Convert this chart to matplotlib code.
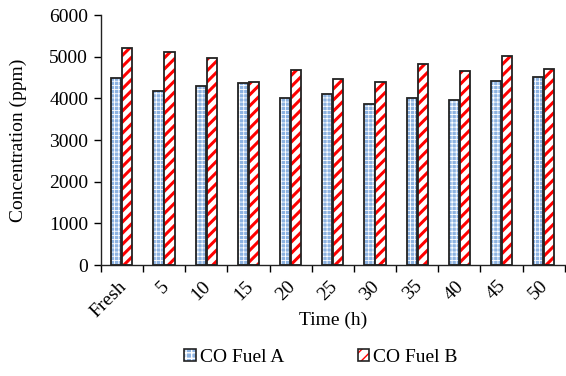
import matplotlib
matplotlib.use("Agg")
import matplotlib.pyplot as plt
import matplotlib.transforms as mtransforms
from matplotlib.patches import Patch
from matplotlib.legend_handler import HandlerTuple
import numpy as np

categories = ["Fresh", "5", "10", "15", "20", "25", "30", "35", "40", "45", "50"]
fuel_a = [4480, 4170, 4300, 4380, 4000, 4100, 3870, 4020, 3960, 4420, 4520]
fuel_b = [5200, 5110, 4960, 4390, 4690, 4460, 4390, 4820, 4650, 5010, 4700]

plt.rcParams["font.family"] = ["Liberation Serif", "DejaVu Serif"]
plt.rcParams["font.size"] = 14

fig = plt.figure(figsize=(5.66, 3.76), dpi=100)
ax = fig.add_axes([0.178, 0.295, 0.82, 0.665])

x = np.arange(len(categories))
w = 0.24
gap = 0.02
blue = "#8db3e2"

# Fuel A: light blue with a fine white grid texture
with plt.rc_context({"hatch.linewidth": 0.6}):
    ax.bar(x - w / 2 - gap / 2, fuel_a, w, color=blue, edgecolor="white",
           hatch="++++", linewidth=0)
    hatch_a = Patch(facecolor=blue, edgecolor="white", hatch="+++", linewidth=0)
ax.bar(x - w / 2 - gap / 2, fuel_a, w, facecolor="none", edgecolor="#222222",
       linewidth=1.3)

# Fuel B: white with red diagonal stripes
with plt.rc_context({"hatch.linewidth": 2.2}):
    ax.bar(x + w / 2 + gap / 2, fuel_b, w, color="white", edgecolor="#ff0000",
           hatch="///", linewidth=0)
    hatch_b = Patch(facecolor="white", edgecolor="#ff0000", hatch="///", linewidth=0)
ax.bar(x + w / 2 + gap / 2, fuel_b, w, facecolor="none", edgecolor="#222222",
       linewidth=1.3)

ax.set_xlim(-0.5, len(categories) - 0.5)
ax.set_ylim(0, 6000)
ax.set_yticks(np.arange(0, 6001, 1000))

# category labels centred between boundary ticks
ax.set_xticks(np.arange(-0.5, len(categories), 1.0))
ax.set_xticklabels([])
ax.set_xticks(x, minor=True)
ax.set_xticklabels(categories, minor=True, rotation=45, ha="right",
                   rotation_mode="anchor")
ax.tick_params(axis="x", which="major", direction="out", length=5, width=1)
ax.tick_params(axis="x", which="minor", length=0, pad=9)
ax.tick_params(axis="y", direction="out", length=5, width=1, pad=4)
shift = mtransforms.ScaledTranslation(-4 / 100, 0, fig.dpi_scale_trans)
for lbl in ax.get_xticklabels(minor=True):
    lbl.set_transform(lbl.get_transform() + shift)

for s in ["top", "right"]:
    ax.spines[s].set_visible(False)
for s in ["left", "bottom"]:
    ax.spines[s].set_color("#222222")
    ax.spines[s].set_linewidth(1)

ax.set_ylabel("Concentration (ppm)", labelpad=16)
ax.set_xlabel("Time (h)", labelpad=-6)

border = dict(facecolor="none", edgecolor="#222222", linewidth=1.2)
handles = [(hatch_a, Patch(**border)), (hatch_b, Patch(**border))]
fig.legend(handles=handles, labels=["CO Fuel A", "CO Fuel B"],
           handler_map={tuple: HandlerTuple(ndivide=1)},
           loc="center", ncol=2, frameon=False,
           bbox_to_anchor=(0.567, 0.05), columnspacing=3.77, handlelength=0.6,
           handleheight=0.6, handletextpad=0.2)

fig.savefig("out.png", dpi=100)
